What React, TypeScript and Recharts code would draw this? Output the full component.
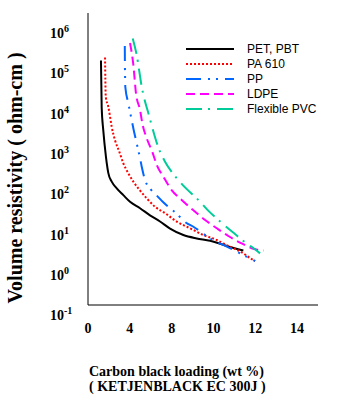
import { Line, LineChart, XAxis, YAxis } from 'recharts';

// x tick labels as printed on the original axis (evenly spaced, not linear)
const X_TICK_LABELS = [0, 4, 8, 10, 12, 14];
// y ticks as decades (10^-1 ... 10^6)
const Y_TICK_EXPONENTS = [-1, 0, 1, 2, 3, 4, 5, 6];

// carbon black loading (wt %) vs volume resistivity (ohm-cm)
const petWt = [1.24, 1.31, 1.46, 1.72, 1.79, 1.94, 2.27, 2.75, 3.38, 4.02, 4.98, 5.93, 6.89, 7.85, 8.56, 9.2, 9.84, 10.28, 10.64, 11.43];
const petRes = [2.1e5, 1.4e4, 3.9e3, 840, 600, 340, 205, 140, 95, 65, 45, 30, 21, 14, 9.7, 8.0, 7.0, 6.0, 5.2, 4.0];

const pa610Wt = [1.63, 1.66, 1.7, 1.94, 2.11, 2.27, 2.58, 3.0, 3.38, 3.86, 4.34, 4.81, 5.62, 6.41, 7.37, 8.24, 8.88, 9.52, 10.16, 10.47, 11.43, 11.75, 11.99];
const pa610Res = [2.5e5, 6.8e4, 2.6e4, 1.5e4, 8.4e3, 4.7e3, 2.2e3, 1.13e3, 585, 330, 204, 140, 79, 49, 34, 21, 14.3, 9.7, 7.3, 6.0, 3.4, 2.6, 2.2];

const ppWt = [3.52, 3.53, 3.55, 3.57, 3.86, 4.18, 4.34, 4.66, 4.98, 5.14, 5.46, 6.0, 6.63, 7.15, 8.21, 8.69, 9.04, 9.84, 10.64, 11.43, 11.99];
const ppRes = [4.8e5, 1.9e5, 7.5e4, 4.6e4, 1.8e4, 6.9e3, 4.3e3, 1.83e3, 780, 480, 225, 132, 90, 65, 34, 19.6, 15.6, 8.0, 5.0, 3.1, 2.2];

const ldpeWt = [4.02, 4.34, 4.59, 4.98, 5.2, 5.62, 6.15, 6.58, 7.21, 8.0, 8.48, 9.04, 9.6, 10.16, 10.71, 11.35, 11.99, 12.39];
const ldpeRes = [5.7e5, 1.6e5, 3.2e4, 1.23e4, 5.7e3, 2.44e3, 1.13e3, 530, 272, 127, 72, 40, 23, 14.3, 9.2, 6.0, 4.3, 4.0];

const pvcWt = [4.28, 4.66, 5.14, 5.87, 6.73, 7.37, 8.16, 8.69, 9.28, 9.8, 10.32, 11.03, 11.59, 11.94, 12.23];
const pvcRes = [7.4e5, 2.85e5, 4.65e4, 8.4e3, 1.46e3, 640, 283, 140, 72, 37, 21, 10.3, 6.0, 4.5, 3.4];

const SERIF = '"Liberation Serif", "Times New Roman", serif';
const SANS = '"Liberation Sans", Arial, sans-serif';

// position of a wt% value on the evenly spaced tick axis
const toAxis = (wt: number) => {
  for (let i = 0; i < X_TICK_LABELS.length - 1; i++) {
    const a = X_TICK_LABELS[i];
    const b = X_TICK_LABELS[i + 1];
    if (wt <= b || i === X_TICK_LABELS.length - 2) return i + (wt - a) / (b - a);
  }
  return 0;
};

// y is plotted as log10(resistivity)
const build = (wt: number[], res: number[]) => wt.map((w, i) => ({ x: toAxis(w), y: Math.log10(res[i]) }));

const series = [
  { name: 'PET, PBT', data: build(petWt, petRes), color: '#000000', dash: undefined },
  { name: 'PA 610', data: build(pa610Wt, pa610Res), color: '#ff0000', dash: '2 2' },
  { name: 'PP', data: build(ppWt, ppRes), color: '#0066ff', dash: '15 7 2 6 2 7' },
  { name: 'LDPE', data: build(ldpeWt, ldpeRes), color: '#ff00ff', dash: '9 5' },
  { name: 'Flexible PVC', data: build(pvcWt, pvcRes), color: '#00cc99', dash: '16 6 2 7' },
];

const YTick = ({ y, payload }: any) => (
  <text x={50} y={y + 5} fontFamily={SERIF} fontWeight="bold" fontSize={14} fill="#000">
    10<tspan dy={-6} fontSize={10}>{payload.value}</tspan>
  </text>
);

const XTick = ({ x, payload }: any) => (
  <text x={x} y={333} textAnchor="middle" fontFamily={SERIF} fontWeight="bold" fontSize={14} fill="#000">
    {X_TICK_LABELS[payload.value]}
  </text>
);

const SeriesLegend = () => (
  <div style={{ position: 'absolute', top: 42, left: 186, fontFamily: SANS, fontSize: 12, color: '#000' }}>
    {series.map((s) => (
      <div key={s.name} style={{ display: 'flex', alignItems: 'center', height: 14.8 }}>
        <svg width={48} height={4} style={{ marginRight: 13 }}>
          <line x1={0} y1={2} x2={48} y2={2} stroke={s.color} strokeWidth={2} strokeDasharray={s.dash} />
        </svg>
        <span>{s.name}</span>
      </div>
    ))}
  </div>
);

export default function App() {
  return (
    <div style={{ position: 'absolute', left: 0, top: 0, width: 352, height: 415, background: '#fff' }}>
      <LineChart width={352} height={415} margin={{ top: 13, right: 34, left: 0, bottom: 0 }}>
        <XAxis
          dataKey="x"
          type="number"
          domain={[0, 5.5]}
          ticks={[0, 1, 2, 3, 4, 5]}
          interval={0}
          height={110}
          tickLine={false}
          axisLine={{ stroke: '#000', strokeWidth: 1 }}
          tick={<XTick />}
        />
        <YAxis
          type="number"
          domain={[-0.75, 6.5]}
          ticks={Y_TICK_EXPONENTS}
          interval={0}
          allowDataOverflow
          width={88}
          tickLine={false}
          axisLine={{ stroke: '#000', strokeWidth: 1 }}
          tick={<YTick />}
        />
        {series.map((s) => (
          <Line
            key={s.name}
            data={s.data}
            dataKey="y"
            name={s.name}
            type="monotone"
            stroke={s.color}
            strokeWidth={2}
            strokeDasharray={s.dash}
            dot={false}
            isAnimationActive={false}
          />
        ))}
        <text
          transform="translate(22,178) rotate(-90)"
          textAnchor="middle"
          fontFamily={SERIF}
          fontWeight="bold"
          fontSize={20}
          fill="#000"
        >
          Volume resistivity ( ohm-cm )
        </text>
        <text x={89} y={376} fontFamily={SERIF} fontWeight="bold" fontSize={14} fill="#000">
          Carbon black loading (wt %)
        </text>
        <text x={89} y={391} fontFamily={SERIF} fontWeight="bold" fontSize={14} fill="#000">
          ( KETJENBLACK EC 300J )
        </text>
      </LineChart>
      <SeriesLegend />
    </div>
  );
}
